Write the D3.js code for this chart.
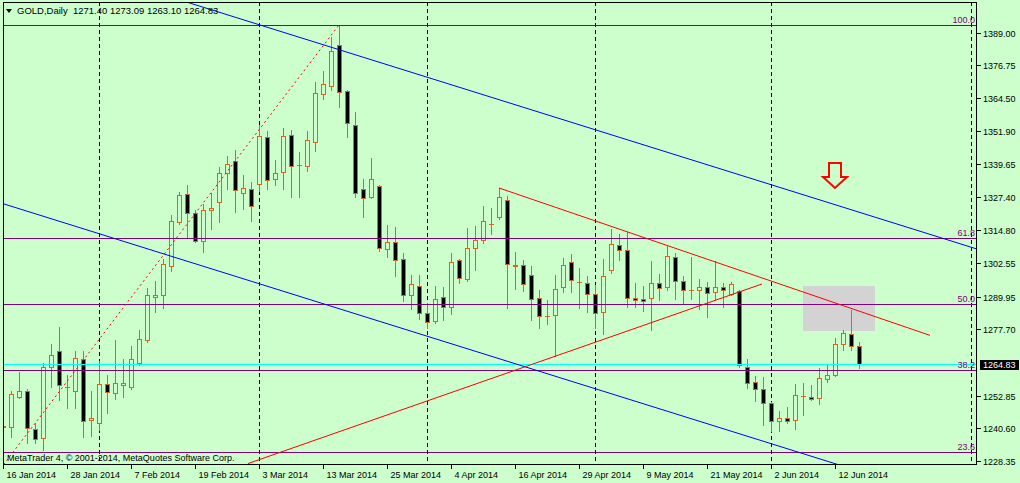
<!DOCTYPE html>
<html><head><meta charset="utf-8">
<script src="https://cdn.jsdelivr.net/npm/d3@7"></script>
<style>
html,body{margin:0;padding:0;background:#CCFFCC;overflow:hidden;}
svg{display:block;font-family:"Liberation Sans",Arial,sans-serif;}
</style></head><body>
<svg id="chart" width="1020" height="483"></svg>
<script>
// ---------- data ----------
const title = "GOLD,Daily";
const opens  = [1241.48,1241.11,1252.35,1254.60,1240.36,1236.98,1263.60,1269.60,1256.10,1254.60,1266.61,1243.73,1242.61,1257.23,1253.85,1256.85,1256.10,1265.10,1273.72,1289.84,
1290.59,1301.47,1317.96,1328.46,1321.33,1310.84,1322.46,1325.46,1336.33,1340.83,1328.83,1330.33,1332.21,1349.83,1334.08,1336.71,1350.58,1339.33,1338.95,1347.95,
1365.95,1368.95,1384.32,1367.07,1354.33,1330.33,1327.33,1331.46,1307.84,1310.47,1304.09,1290.59,1293.97,1283.85,1280.97,1289.84,1286.10,1303.72,1296.59,1308.22,
1311.22,1317.21,1319.84,1326.21,1301.84,1301.84,1298.09,1289.47,1282.72,1283.10,1293.59,1302.97,1295.47,1295.09,1290.97,1284.22,1299.97,1309.34,1307.47,1289.47,
1289.10,1289.47,1295.09,1293.59,1304.84,1295.84,1292.47,1292.47,1293.59,1291.71,1293.59,1290.97,1291.91,1263.60,1257.98,1255.35,1250.10,1243.36,1244.48,1243.73,
1252.73,1252.35,1251.98,1259.10,1260.60,1272.22,1275.97,1271.40];
const highs  = [1244.86,1254.60,1261.73,1255.35,1242.61,1265.10,1272.22,1278.60,1260.60,1269.60,1269.60,1254.60,1265.85,1260.60,1273.72,1266.61,1271.47,1277.47,1293.22,1295.84,
1304.09,1320.59,1329.21,1331.83,1322.46,1324.71,1328.83,1338.58,1342.83,1344.95,1335.58,1332.96,1354.33,1352.08,1341.21,1353.20,1352.45,1344.33,1352.08,1370.45,
1374.57,1387.32,1391.82,1367.40,1359.20,1334.08,1341.95,1331.83,1316.84,1316.09,1306.34,1298.09,1298.09,1287.60,1293.97,1293.59,1306.34,1304.00,1315.84,1316.59,
1323.96,1323.21,1330.71,1327.71,1306.72,1303.72,1301.47,1292.47,1288.72,1298.09,1304.47,1305.97,1300.72,1297.72,1294.34,1304.09,1315.34,1313.46,1314.21,1295.09,
1293.97,1303.34,1298.47,1308.97,1306.34,1297.72,1304.84,1296.59,1295.47,1303.34,1295.09,1295.47,1292.30,1266.61,1260.23,1259.85,1250.40,1247.11,1248.61,1257.23,
1257.60,1256.85,1263.23,1264.73,1274.47,1277.47,1284.97,1273.09];
const lows   = [1235.48,1237.36,1251.98,1235.11,1235.11,1232.48,1256.10,1251.23,1248.23,1248.23,1237.36,1237.73,1239.98,1246.36,1251.60,1252.35,1255.35,1264.35,1272.97,1284.22,
1285.72,1299.59,1317.21,1312.34,1310.47,1306.72,1315.34,1317.96,1330.33,1321.71,1322.83,1318.34,1329.58,1330.33,1331.83,1330.33,1327.33,1327.33,1337.08,1344.58,
1364.07,1367.45,1361.08,1349.83,1327.33,1319.84,1326.96,1307.09,1304.84,1297.72,1288.35,1285.35,1281.60,1278.35,1280.22,1281.22,1283.47,1295.09,1295.84,1299.97,
1310.09,1313.46,1319.09,1285.72,1292.84,1292.09,1281.22,1278.35,1279.72,1267.73,1291.71,1291.71,1285.72,1284.22,1278.35,1276.10,1298.84,1303.72,1286.10,1286.10,
1284.60,1277.47,1288.72,1292.47,1289.10,1287.60,1289.10,1285.35,1282.35,1289.10,1286.10,1290.59,1263.60,1255.73,1250.85,1241.86,1239.61,1239.61,1242.61,1240.36,
1245.61,1251.23,1249.73,1257.98,1260.23,1269.97,1269.97,1263.10];
const closes = [1241.11,1253.48,1254.60,1240.73,1236.61,1263.60,1268.10,1256.85,1256.00,1266.98,1243.36,1244.48,1257.23,1254.23,1257.60,1257.60,1266.61,1274.10,1290.59,1290.59,
1302.22,1318.34,1328.08,1321.33,1310.84,1322.46,1323.21,1336.33,1339.70,1329.96,1330.71,1323.96,1350.20,1333.71,1336.33,1350.20,1338.95,1339.20,1348.70,1366.32,
1369.70,1382.07,1366.70,1355.08,1328.83,1326.96,1334.08,1308.22,1310.47,1303.72,1290.59,1294.72,1283.85,1280.60,1289.10,1286.10,1302.97,1296.97,1308.22,1311.22,
1318.34,1317.30,1327.33,1302.22,1301.47,1294.72,1289.10,1282.72,1282.60,1292.84,1301.84,1296.22,1295.40,1290.97,1283.85,1297.72,1309.72,1307.47,1289.47,1288.72,
1288.35,1295.09,1293.22,1305.22,1295.84,1292.47,1292.40,1293.59,1291.34,1293.59,1292.47,1294.72,1264.35,1257.60,1255.35,1250.10,1243.36,1244.48,1243.36,1253.10,
1252.60,1251.60,1259.48,1260.60,1272.22,1276.35,1271.47,1264.83];

const dateTickIndex  = [0,8,16,24,32,40,48,56,64,72,80,88,96,104];
const dateTickLabels = ["16 Jan 2014","28 Jan 2014","7 Feb 2014","19 Feb 2014","3 Mar 2014","13 Mar 2014","25 Mar 2014","4 Apr 2014","16 Apr 2014","29 Apr 2014","9 May 2014","21 May 2014","2 Jun 2014","12 Jun 2014"];
const priceTicks = [1389.00,1376.75,1364.50,1351.90,1339.65,1327.40,1314.80,1302.55,1289.95,1277.70,1252.85,1240.60,1228.35];
const lastPrice = 1264.83;
const separatorIndex = [12,32,53,74,96,121];

const fibLevels = [100.0, 61.8, 50.0, 38.2, 23.6];
const fibLow  = {i:-11.3, p:1182.28};
const fibHigh = {i:42,    p:1391.82};

const blueUpper  = [{i:32.125,p:1391.82},{i:112.125,p:1316.84}];
const blueLower  = [{i:0.125,p:1324.71},{i:104.375,p:1227.01}];
const redFalling = [{i:62,p:1330.71},{i:115.875,p:1275.45}];
const redRising  = [{i:30.625,p:1227.39},{i:94.875,p:1294.72}];
const boxZone    = {i0:100,i1:109,p0:1293.97,p1:1277.10};
const arrowTip   = {i:104,p:1330.71};

// ---------- layout ----------
const L=3, T=2, R=977, B=465;
const bg="#CCFFCC", candleCol="#D2691E", fibCol="#800080";
const svg = d3.select("#chart");
svg.append("rect").attr("width",1020).attr("height",483).attr("fill",bg);

const x = d3.scaleLinear().domain([0,121]).range([3,971]);
const y = d3.scaleLinear().domain([1228.35,1389.00]).range([461,32.5]);

svg.append("defs").append("clipPath").attr("id","plot")
  .append("rect").attr("x",L).attr("y",T).attr("width",R-L).attr("height",B-T);

const plot = svg.append("g").attr("clip-path","url(#plot)").attr("shape-rendering","crispEdges");

function extLine(a,b){
  const x1=x(a.i), y1=y(a.p), x2=x(b.i), y2=y(b.p);
  const k=(y2-y1)/(x2-x1);
  return [[L-50, y1+k*(L-50-x1)],[R+50, y1+k*(R+50-x1)]];
}

// background box
plot.append("rect")
  .attr("x",x(boxZone.i0)).attr("y",y(boxZone.p0))
  .attr("width",x(boxZone.i1)-x(boxZone.i0)).attr("height",y(boxZone.p1)-y(boxZone.p0))
  .attr("fill","#D3D3D3");

// period separators
plot.selectAll(".sep").data(separatorIndex).join("line")
  .attr("x1",d=>Math.round(x(d))+0.5).attr("x2",d=>Math.round(x(d))+0.5)
  .attr("y1",T).attr("y2",B)
  .attr("stroke","#000").attr("stroke-width",1).attr("stroke-dasharray","4,3");

// candles
const bars = d3.range(closes.length).map(i=>({i,o:opens[i],h:highs[i],l:lows[i],c:closes[i]}));
const cg = plot.append("g");
bars.forEach(d=>{
  const cx=Math.round(x(d.i));
  const yh=Math.round(y(d.h)), yl=Math.round(y(d.l));
  const yt=Math.round(y(Math.max(d.o,d.c))), yb=Math.round(y(Math.min(d.o,d.c)));
  cg.append("line").attr("x1",cx+0.5).attr("x2",cx+0.5).attr("y1",yh).attr("y2",yl+1)
    .attr("stroke",candleCol).attr("stroke-width",1);
  if (yb-yt<1){
    cg.append("line").attr("x1",cx-2).attr("x2",cx+3).attr("y1",yt+0.5).attr("y2",yt+0.5)
      .attr("stroke",candleCol).attr("stroke-width",1);
  } else {
    cg.append("rect").attr("x",cx-1.5).attr("y",yt+0.5).attr("width",4).attr("height",yb-yt)
      .attr("fill", d.c<d.o ? "#000" : bg).attr("stroke",candleCol).attr("stroke-width",1);
  }
});

// fibonacci levels
const fibPrice = lv => fibLow.p + lv/100*(fibHigh.p-fibLow.p);
plot.selectAll(".fib").data(fibLevels).join("line")
  .attr("x1",L).attr("x2",R)
  .attr("y1",d=>Math.round(y(fibPrice(d)))+0.5).attr("y2",d=>Math.round(y(fibPrice(d)))+0.5)
  .attr("stroke",fibCol).attr("stroke-width",1);
svg.selectAll(".fibLbl").data(fibLevels).join("text")
  .attr("x",975).attr("y",d=>Math.round(y(fibPrice(d)))-2)
  .attr("text-anchor","end").attr("font-size","9px").attr("fill",fibCol)
  .text(d=>d.toFixed(1));

// fib base dotted line
plot.append("line")
  .attr("x1",x(fibLow.i)).attr("y1",y(fibLow.p)).attr("x2",x(fibHigh.i)).attr("y2",y(fibHigh.p))
  .attr("stroke","#FF0000").attr("stroke-width",1).attr("stroke-dasharray","2,3")
  .attr("shape-rendering","auto");

// bid line
plot.append("line").attr("x1",L).attr("x2",R)
  .attr("y1",Math.round(y(lastPrice))+0.5).attr("y2",Math.round(y(lastPrice))+0.5)
  .attr("stroke","#00FFFF").attr("stroke-width",1);

// channel lines
[blueUpper, blueLower].forEach(seg=>{
  const e = extLine(seg[0],seg[1]);
  plot.append("line").attr("x1",e[0][0]).attr("y1",e[0][1]).attr("x2",e[1][0]).attr("y2",e[1][1])
    .attr("stroke","#0000FF").attr("stroke-width",1).attr("shape-rendering","auto");
});
[redFalling, redRising].forEach(seg=>{
  plot.append("line").attr("x1",x(seg[0].i)).attr("y1",y(seg[0].p)).attr("x2",x(seg[1].i)).attr("y2",y(seg[1].p))
    .attr("stroke","#FF0000").attr("stroke-width",1).attr("shape-rendering","auto");
});

// arrow
const tx=x(arrowTip.i), ty=y(arrowTip.p);
plot.append("path")
  .attr("d",`M${tx-6},${ty-25} L${tx+6},${ty-25} L${tx+6},${ty-11} L${tx+12},${ty-11} L${tx},${ty} L${tx-12},${ty-11} L${tx-6},${ty-11} Z`)
  .attr("fill","none").attr("stroke","#FF0000").attr("stroke-width",2).attr("shape-rendering","auto");

// frame
svg.append("rect").attr("x",L+0.5).attr("y",T+0.5).attr("width",R-L-1).attr("height",B-T-1)
  .attr("fill","none").attr("stroke","#000").attr("stroke-width",1).attr("shape-rendering","crispEdges");

// price axis
const ya = svg.append("g").attr("shape-rendering","crispEdges");
priceTicks.forEach(p=>{
  const yy=Math.round(y(p))+0.5;
  ya.append("line").attr("x1",R).attr("x2",R+4).attr("y1",yy).attr("y2",yy).attr("stroke","#000");
  ya.append("text").attr("x",983).attr("y",yy+3.5).attr("font-size","9px").attr("fill","#000").text(p.toFixed(2));
});
{
  const yy=Math.round(y(lastPrice))+0.5;
  ya.append("rect").attr("x",980).attr("y",yy-5).attr("width",39).attr("height",10).attr("fill","#000");
  ya.append("text").attr("x",983).attr("y",yy+3.5).attr("font-size","9px").attr("fill","#fff").text(lastPrice.toFixed(2));
}

// time axis
dateTickIndex.forEach((di,k)=>{
  const xx=Math.round(x(di))+0.5;
  ya.append("line").attr("x1",xx).attr("x2",xx).attr("y1",B).attr("y2",B+4).attr("stroke","#000");
  ya.append("text").attr("x",xx+3).attr("y",478).attr("font-size","9px").attr("fill","#000").text(dateTickLabels[k]);
});

// header
svg.append("path").attr("d","M6,9 L12,9 L9,13 Z").attr("fill","#000");
svg.append("text").attr("x",17).attr("y",14).attr("font-size","9.5px").attr("fill","#000")
  .style("white-space","pre")
  .text(`${title}  ${opens[opens.length-1].toFixed(2)} ${highs[highs.length-1].toFixed(2)} ${lows[lows.length-1].toFixed(2)} ${closes[closes.length-1].toFixed(2)}`);
svg.append("text").attr("x",7).attr("y",461).attr("font-size","9px").attr("fill","#000")
  .text("MetaTrader 4, © 2001-2014, MetaQuotes Software Corp.");
</script>
</body></html>
